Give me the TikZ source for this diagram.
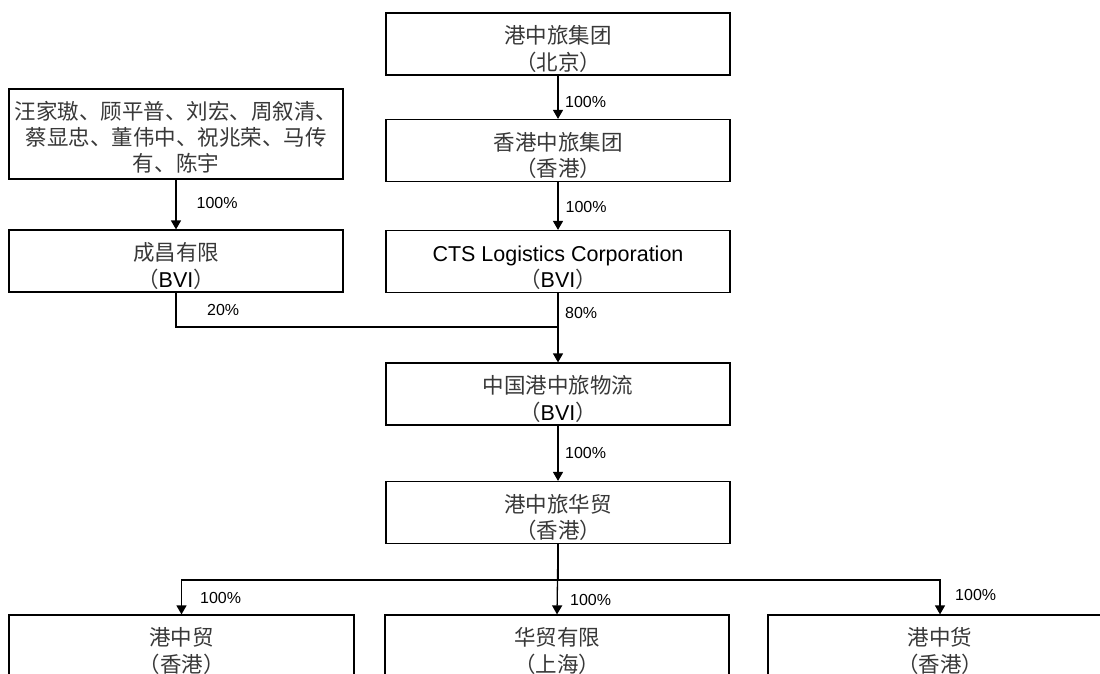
\documentclass[tikz,border=0pt]{standalone}
\usepackage{fontspec}
\setmainfont{Liberation Sans}
\newfontfamily\cjk{Noto Sans CJK SC}
\usetikzlibrary{arrows.meta}
\newcommand{\zh}[1]{{\cjk\color{black!78}#1}}
\newcommand{\lines}[1]{\begin{tabular}{@{}c@{}}#1\end{tabular}}
\begin{document}
\begin{tikzpicture}[x=1pt,y=-1pt,
  box/.style={draw, line width=1.2pt, inner sep=0, minimum width=344pt, minimum height=62pt},
  txt/.style={inner sep=0, anchor=north, font=\fontsize{21.5}{26.5}\selectfont},
  lab/.style={inner sep=0, anchor=west, font=\fontsize{16}{18}\selectfont},
  conn/.style={line width=1.3pt},
  arr/.style={conn, -{Triangle[width=10pt,length=9pt]}}]
\useasboundingbox (0,0) rectangle (1100,673);
\fill[white] (0,0) rectangle (1100,673);
% boxes
\node[box] (g1) at (558,44) {};
\node[box] (g2) at (558,150.5) {};
\node[box] (g3) at (558,261.5) {};
\node[box, minimum width=334pt, minimum height=90pt] (p1) at (176,134) {};
\node[box, minimum width=334pt] (c1) at (176,261) {};
\node[box] (w) at (558,394) {};
\node[box] (hm) at (558,512.5) {};
\node[box, minimum width=345pt] (b1) at (181.5,646) {};
\node[box, minimum width=344pt] (b2) at (557,646) {};
\node[box, minimum width=344pt] (b3) at (940,646) {};
% texts
\node[txt] (g1t) at ([yshift=-12.45pt]g1.north) {\lines{\zh{港中旅集团}\\\zh{（北京）}}};
\node[txt] (g2t) at ([yshift=-12.45pt]g2.north) {\lines{\zh{香港中旅集团}\\\zh{（香港）}}};
\node[txt] (g3t) at ([yshift=-12.45pt]g3.north) {\lines{CTS Logistics Corporation\\\zh{（}BVI\zh{）}}};
\node[txt, font=\fontsize{21.5}{25.5}\selectfont] (p1t) at ([yshift=-13.15pt]p1.north) {\lines{\zh{汪家璈、顾平普、刘宏、周叙清、}\\\zh{蔡显忠、董伟中、祝兆荣、马传}\\\zh{有、陈宇}}};
\node[txt] (c1t) at ([yshift=-12.45pt]c1.north) {\lines{\zh{成昌有限}\\\zh{（}BVI\zh{）}}};
\node[txt] (wt) at ([yshift=-12.45pt]w.north) {\lines{\zh{中国港中旅物流}\\\zh{（}BVI\zh{）}}};
\node[txt] (hmt) at ([yshift=-12.45pt]hm.north) {\lines{\zh{港中旅华贸}\\\zh{（香港）}}};
\node[txt] (b1t) at ([yshift=-12.45pt]b1.north) {\lines{\zh{港中贸}\\\zh{（香港）}}};
\node[txt] (b2t) at ([yshift=-12.45pt]b2.north) {\lines{\zh{华贸有限}\\\zh{（上海）}}};
\node[txt] (b3t) at ([yshift=-12.45pt]b3.north) {\lines{\zh{港中货}\\\zh{（香港）}}};
% junctions
\coordinate (j1) at (558,327);
\coordinate (j2) at (558,580);
% connectors
\draw[arr] (g1.south) -- (g2.north);
\draw[arr] (g2.south) -- (g3.north);
\draw[arr] (p1.south) -- (c1.north);
\draw[conn] (c1.south) |- (j1);
\draw[arr] (g3.south) -- (w.north);
\draw[arr] (w.south) -- (hm.north);
\draw[conn] (hm.south) -- (j2);
\draw[arr] (j2) -| (b1.north);
\draw[arr] (j2) -| (b3.north);
\draw[arr] (hm.south) -- (b2.north);
% labels
\node[lab] (l1) at (565,102) {100\%};
\node[lab] (l2) at (565.5,207) {100\%};
\node[lab] (l3) at (196.5,203) {100\%};
\node[lab] (l4) at (207,310) {20\%};
\node[lab] (l5) at (565,313) {80\%};
\node[lab] (l6) at (565,453) {100\%};
\node[lab] (l7) at (200,598) {100\%};
\node[lab] (l8) at (570,600) {100\%};
\node[lab] (l9) at (955,595) {100\%};
\end{tikzpicture}
\end{document}
